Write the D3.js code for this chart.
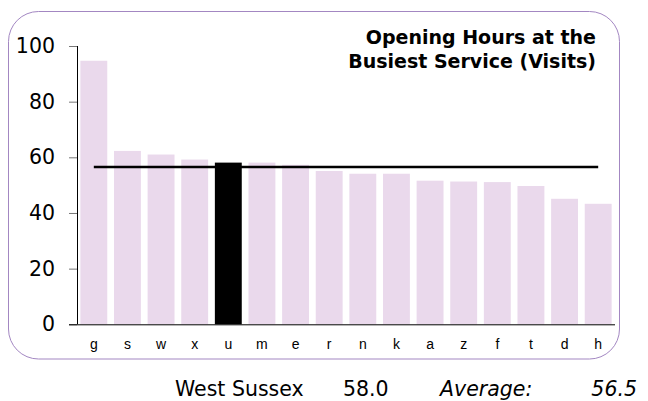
<!DOCTYPE html>
<html>
<head>
<meta charset="utf-8">
<script src="https://cdn.jsdelivr.net/npm/d3@7"></script>
<style>
  body { margin: 0; background: #fff; }
  svg { display: block; }
</style>
</head>
<body>
<svg id="chart" width="648" height="401"></svg>
<script>
const categories = ['g', 's', 'w', 'x', 'u', 'm', 'e', 'r', 'n', 'k', 'a', 'z', 'f', 't', 'd', 'h']
const values = [94.7, 62.3, 61.0, 59.2, 58.1, 58.1, 57.3, 55.1, 54.1, 54.1, 51.6, 51.3, 51.1, 49.7, 45.1, 43.3]
const highlight = 'u'
const average = 56.5
const yTicks = [0, 20, 40, 60, 80, 100]
const titleLines = ['Opening Hours at the', 'Busiest Service (Visits)']
const footer = { area: 'West Sussex', value: '58.0', label: 'Average:', avg: '56.5' }

const svg = d3.select('#chart')

const margin = { left: 77, right: 33, top: 46, bottom: 77 }
const width = 648, height = 401

// rounded frame
svg.append('rect')
    .attr('x', 8.5).attr('y', 11.5)
    .attr('width', 611).attr('height', 347.5)
    .attr('rx', 30).attr('ry', 30)
    .attr('fill', 'none')
    .attr('stroke', '#a387c2')
    .attr('stroke-width', 1)

const x = d3.scaleBand()
    .domain(categories)
    .range([margin.left, width - margin.right])
    .paddingInner(0.2)
    .paddingOuter(0.1)

const y = d3.scaleLinear()
    .domain([0, 100])
    .range([324.3, margin.top])

svg.selectAll('.bar')
    .data(categories)
    .enter()
    .append('rect')
    .attr('class', 'bar')
    .attr('x', d => x(d))
    .attr('width', x.bandwidth())
    .attr('y', (d, i) => y(values[i]))
    .attr('height', (d, i) => y(0) - y(values[i]))
    .attr('fill', d => d === highlight ? '#000' : '#ead9ec')

// average line, centre of first bar to centre of last
svg.append('line')
    .attr('x1', x(categories[0]) + x.bandwidth() / 2)
    .attr('x2', x(categories[categories.length - 1]) + x.bandwidth() / 2)
    .attr('y1', y(average)).attr('y2', y(average))
    .attr('stroke', '#000')
    .attr('stroke-width', 2.5)

// y axis
const yAxis = svg.append('g')
    .attr('transform', `translate(${margin.left},0)`)
    .call(d3.axisLeft(y).tickValues(yTicks).tickSize(8).tickPadding(14))
yAxis.select('.domain').attr('stroke', '#000').attr('d', `M0.5,${y(100)}V${y(0)}`)
yAxis.selectAll('.tick line').attr('stroke', '#777')
yAxis.selectAll('.tick text')
    .attr('font-family', 'DejaVu Sans, Verdana, sans-serif')
    .attr('font-size', 20.5)
    .attr('fill', '#000')

// x axis
const xAxis = svg.append('g')
    .attr('transform', `translate(0,${y(0)})`)
    .call(d3.axisBottom(x).tickSize(0).tickPadding(15))
xAxis.select('.domain').attr('stroke', '#000').attr('d', `M69,0.5H${width - margin.right}`)
xAxis.selectAll('.tick text')
    .attr('font-family', 'Liberation Sans, Arial, sans-serif')
    .attr('font-size', 14)
    .attr('fill', '#000')

// title
svg.append('text')
    .attr('x', 596)
    .attr('y', 44)
    .attr('text-anchor', 'end')
    .attr('font-family', 'DejaVu Sans, Verdana, sans-serif')
    .attr('font-weight', 'bold')
    .attr('font-size', 19)
    .selectAll('tspan')
    .data(titleLines)
    .enter()
    .append('tspan')
    .attr('x', 596)
    .attr('dy', (d, i) => i === 0 ? 0 : 24)
    .text(d => d)

// footer
const foot = svg.append('g')
    .attr('font-family', 'DejaVu Sans, Verdana, sans-serif')
    .attr('font-size', 20.5)
    .attr('fill', '#000')
foot.append('text').attr('x', 175).attr('y', 396).text(footer.area)
foot.append('text').attr('x', 343).attr('y', 396).text(footer.value)
foot.append('text').attr('x', 440).attr('y', 396).attr('font-style', 'italic').text(footer.label)
foot.append('text').attr('x', 637).attr('y', 396).attr('text-anchor', 'end').attr('font-style', 'italic').text(footer.avg)
</script>
</body>
</html>
